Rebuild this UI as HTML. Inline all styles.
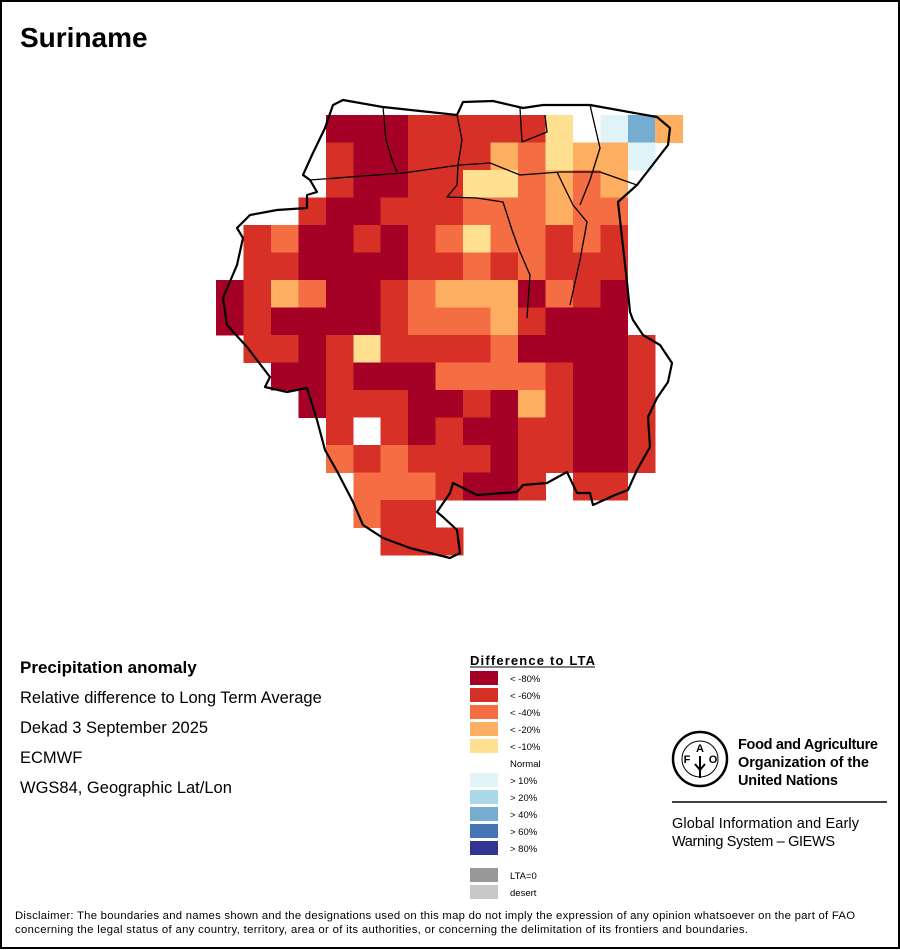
<!DOCTYPE html>
<html><head><meta charset="utf-8"><style>
html,body{margin:0;padding:0;background:#fff}
svg{display:block}
text{font-family:"Liberation Sans",Arial,sans-serif}
</style></head><body>
<svg width="900" height="950" viewBox="0 0 900 950" xmlns="http://www.w3.org/2000/svg">
<rect x="1" y="1" width="898" height="947" fill="#fff" stroke="#000" stroke-width="2"/>
<text x="20" y="47" font-size="28" font-weight="bold">Suriname</text>
<g id="grid" shape-rendering="crispEdges"></g>
<g fill="none" stroke="#000" stroke-linejoin="round">
<path stroke-width="2.2" d="M343,100 L383,107 L457,115 L463,102 L493,101 L523,108 L543,105 L590,105 L657,117 L670,128 L668,145 L637,185 L618,202 L627,282 L630,312 L633,320 L643,335 L660,345 L672,363 L668,382 L657,398 L648,417 L650,447 L637,470 L628,490 L615,495 L593,505 L590,493 L577,493 L567,472 L547,483 L523,485 L517,492 L477,495 L453,483 L450,493 L437,512 L443,517 L457,530 L460,553 L450,558 L410,548 L383,538 L363,525 L353,502 L338,473 L325,450 L317,420 L307,388 L287,392 L265,387 L270,377 L247,347 L227,325 L223,298 L237,265 L243,238 L237,228 L250,215 L277,210 L307,208 L307,195 L317,192 L310,180 L303,175 L312,155 L325,128 L333,105 Z"/>
<path stroke-width="1.3" d="M310,180 L403,173 L460,165 L490,163 L520,175 L560,172 L600,172 L637,185"/>
<path stroke-width="1.3" d="M383,107 L386,140 L392,160 L397,172"/>
<path stroke-width="1.3" d="M457,115 L462,140 L458,165 L457,185 L447,197 L477,198 L503,202 L512,230 L520,252 L530,275 L527,318"/>
<path stroke-width="1.3" d="M557,172 L573,205 L587,222 L580,260 L570,305"/>
<path stroke-width="1.3" d="M590,105 L600,148 L590,180 L580,205"/>
<path stroke-width="1.3" d="M520,108 L522,142 L547,132 L545,115"/>
</g>
<text x="20" y="673" font-size="17" font-weight="bold">Precipitation anomaly</text>
<text x="20" y="703" font-size="16.5">Relative difference to Long Term Average</text>
<text x="20" y="733" font-size="16.5">Dekad 3 September 2025</text>
<text x="20" y="763" font-size="16.5">ECMWF</text>
<text x="20" y="793" font-size="16.5">WGS84, Geographic Lat/Lon</text>
<text x="470" y="665" font-size="13" font-weight="bold" textLength="125">Difference to LTA</text>
<line x1="470" y1="667" x2="595" y2="667" stroke="#000" stroke-width="1"/>
<g font-size="9.5" shape-rendering="crispEdges">
<rect x="470" y="671" width="28" height="14" fill="#a50026"/><text x="510" y="682">&lt; -80%</text>
<rect x="470" y="688" width="28" height="14" fill="#d73027"/><text x="510" y="699">&lt; -60%</text>
<rect x="470" y="705" width="28" height="14" fill="#f46d43"/><text x="510" y="716">&lt; -40%</text>
<rect x="470" y="722" width="28" height="14" fill="#fdae61"/><text x="510" y="733">&lt; -20%</text>
<rect x="470" y="739" width="28" height="14" fill="#fee090"/><text x="510" y="750">&lt; -10%</text>
<text x="510" y="767">Normal</text>
<rect x="470" y="773" width="28" height="14" fill="#e0f3f8"/><text x="510" y="784">&gt; 10%</text>
<rect x="470" y="790" width="28" height="14" fill="#abd9e9"/><text x="510" y="801">&gt; 20%</text>
<rect x="470" y="807" width="28" height="14" fill="#74add1"/><text x="510" y="818">&gt; 40%</text>
<rect x="470" y="824" width="28" height="14" fill="#4575b4"/><text x="510" y="835">&gt; 60%</text>
<rect x="470" y="841" width="28" height="14" fill="#313695"/><text x="510" y="852">&gt; 80%</text>
<rect x="470" y="868" width="28" height="14" fill="#999"/><text x="510" y="879">LTA=0</text>
<rect x="470" y="885" width="28" height="14" fill="#c8c8c8"/><text x="510" y="896">desert</text>
</g>
<g>
<circle cx="700" cy="759" r="27" fill="none" stroke="#000" stroke-width="2.5"/>
<circle cx="700" cy="759" r="18" fill="none" stroke="#000" stroke-width="1"/>
<text x="700" y="752" font-size="11" font-weight="bold" text-anchor="middle">A</text>
<text x="687" y="763" font-size="11" font-weight="bold" text-anchor="middle">F</text>
<text x="713" y="763" font-size="11" font-weight="bold" text-anchor="middle">O</text>
<path d="M700,756 L700,778 M695,764 L700,770 L705,764" stroke="#000" stroke-width="2" fill="none"/>
<text x="738" y="749" font-size="14.5" font-weight="bold" textLength="140">Food and Agriculture</text>
<text x="738" y="767" font-size="14.5" font-weight="bold" textLength="131">Organization of the</text>
<text x="738" y="785" font-size="14.5" font-weight="bold" textLength="100">United Nations</text>
<line x1="672" y1="802" x2="887" y2="802" stroke="#000" stroke-width="1.5"/>
<text x="672" y="828" font-size="14.5" textLength="187">Global Information and Early</text>
<text x="672" y="846" font-size="14.5" textLength="163">Warning System – GIEWS</text>
</g>
<text x="15" y="919" font-size="11.3" textLength="840">Disclaimer: The boundaries and names shown and the designations used on this map do not imply the expression of any opinion whatsoever on the part of FAO</text>
<text x="15" y="933" font-size="11.3" textLength="733">concerning the legal status of any country, territory, area or of its authorities, or concerning the delimitation of its frontiers and boundaries.</text>
</svg>
<script>
var rows=[
"....DDDRRRRRYWCBL",
"....RDDRRRLOYLLC.",
"....RDDRRYYOLOL..",
"...RDDRRROOOLOO..",
".RODDRDROYOOROR..",
".RRDDDDRRORORRR..",
"DRLODDROLLLDORD..",
"DRDDDDROOOLRDDD..",
".RRDRYRRRRODDDDR.",
"..DDRDDDOOOORDDR.",
"...DRRRDDRDLRDDR.",
"....RWRDRDDRRDDR.",
"....ORORRRDRRDDR.",
".....OOORDDR.RR..",
".....ORR.........",
"......RRR........"];
var col={D:"#a50026",R:"#d73027",O:"#f46d43",L:"#fdae61",Y:"#fee090",W:"#ffffff",C:"#e0f3f8",B:"#74add1"};
var g=document.getElementById("grid"),s="";
for(var r=0;r<rows.length;r++)for(var c=0;c<rows[r].length;c++){var k=rows[r][c];if(col[k]){var x=216+c*27.45,y=115+r*27.5;s+='<rect x="'+x.toFixed(1)+'" y="'+y.toFixed(1)+'" width="27.9" height="28" fill="'+col[k]+'"/>';}}
g.innerHTML=s;
</script>
</body></html>
